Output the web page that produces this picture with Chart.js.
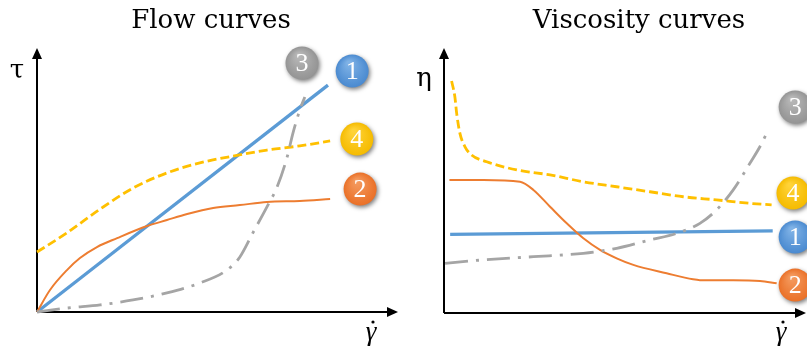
<!DOCTYPE html>
<html>
<head>
<meta charset="utf-8">
<script src="https://cdn.jsdelivr.net/npm/chart.js@4"></script>
<style>
  body { margin: 0; background: #fff; width: 807px; height: 351px; overflow: hidden; position: relative; }
  canvas { position: absolute; top: 0; }
  #flow { left: 0; }
  #visc { left: 403px; }
</style>
</head>
<body>
<canvas id="flow" width="403" height="351"></canvas>
<canvas id="visc" width="404" height="351"></canvas>
<script>
// Flow curves: shear stress vs shear rate (arbitrary units 0-100)
const flowNewtonX = [0, 80.6];
const flowNewtonY = [0, 86.6];
const flowThinningX = [0, 3.6, 8.3, 11.9, 16.6, 22.2, 30.5, 36, 41.6, 48.8, 56.2, 63.7, 72.8, 81.2];
const flowThinningY = [0, 8.4, 16, 20.6, 24.8, 28.2, 32.8, 35.1, 37.4, 39.7, 40.8, 42, 42.4, 43.1];
const flowThickeningX = [0, 8.3, 17.5, 26.6, 36, 45.2, 52.6, 56.2, 59.8, 63.7, 66.5, 69.3, 70.9, 72.8, 74.2];
const flowThickeningY = [0, 1.5, 2.7, 4.6, 7.3, 11.1, 16, 21, 30.2, 40.1, 47.7, 59.2, 68.3, 77.1, 82.1];
const flowYieldX = [0, 8.3, 17.5, 26.6, 36, 45.1, 54.3, 63.7, 72.8, 81.2];
const flowYieldY = [22.9, 30.2, 39.3, 47.3, 53.1, 56.9, 59.5, 61.8, 63.4, 65.3];

// Viscosity curves: viscosity vs shear rate
const viscNewtonX = [1.7, 90.8];
const viscNewtonY = [29.9, 31.2];
const viscThinningX = [1.5, 10.9, 21, 24.7, 29.3, 33.9, 38.5, 43.1, 47.7, 52.3, 61.5, 68.8, 70.7, 79.9, 87.3, 91.9];
const viscThinningY = [50.6, 50.6, 49.9, 46.8, 40.4, 34.1, 28.4, 24, 20.8, 18.3, 15.1, 12.8, 12.5, 12.5, 12.2, 11.3];
const viscThickeningX = [0.3, 10.9, 24.7, 38.5, 47.7, 56.9, 64.3, 70.7, 75.3, 79.9, 84.5, 87.3, 89.6];
const viscThickeningY = [18.9, 20.2, 21.4, 22.7, 24.6, 27.8, 30.3, 34.1, 39.2, 46.8, 56.9, 63.3, 69.6];
const viscYieldX = [2.1, 3, 3.5, 4.4, 5.8, 7.6, 11.8, 20.1, 29.3, 38.5, 47.7, 56.9, 66.1, 75.3, 84.5, 90.5];
const viscYieldY = [88.2, 82.2, 75.9, 68.3, 63.2, 60.1, 57.5, 54.4, 52.5, 49.9, 48, 46.1, 44.2, 43, 41.7, 41.1];

// numbered markers: labels and where they sit (data units)
const badgeLabels = ['1', '2', '3', '4'];
const flowBadgeX = [87.3, 89.5, 73.4, 88.6];
const flowBadgeY = [92.0, 46.9, 95.0, 66.0];
const viscBadgeX = [97.0, 97.0, 97.0, 96.4];
const viscBadgeY = [28.9, 10.6, 78.3, 45.6];

const BLUE = '#5b9bd5';
const ORANGE = '#ed7d31';
const GRAY = '#a5a5a5';
const YELLOW = '#ffc000';
const badgeColors = ['#4a8ad0', '#ea7027', '#949494', '#f5bb00'];
const badgeLight = ['#7fb2e6', '#f49a5e', '#b8b8b8', '#ffd338'];

function pts(xs, ys) {
    return xs.map((x, i) => ({ x: x, y: ys[i] }));
}

function curve(xs, ys, color, width, dash) {
    return {
        data: pts(xs, ys),
        borderColor: color,
        borderWidth: width,
        borderDash: dash || [],
        pointRadius: 0,
        fill: false,
        cubicInterpolationMode: 'monotone',
        borderCapStyle: 'butt',
        clip: false
    };
}

function drawBadge(ctx, x, y, i) {
    const r = 16.5;
    ctx.save();
    ctx.shadowColor = 'rgba(0,0,0,0.5)';
    ctx.shadowBlur = 4;
    ctx.shadowOffsetX = 1.5;
    ctx.shadowOffsetY = 2;
    const g = ctx.createRadialGradient(x - r * 0.2, y - r * 0.5, r * 0.1, x, y, r);
    g.addColorStop(0, badgeLight[i]);
    g.addColorStop(1, badgeColors[i]);
    ctx.fillStyle = g;
    ctx.beginPath();
    ctx.arc(x, y, r, 0, Math.PI * 2);
    ctx.fill();
    ctx.restore();
    ctx.save();
    ctx.fillStyle = '#fff';
    ctx.font = '26px "Liberation Serif", serif';
    ctx.textAlign = 'center';
    ctx.textBaseline = 'middle';
    ctx.fillText(badgeLabels[i], x, y + 1);
    ctx.restore();
}

// axes with arrowheads, titles, axis symbols and numbered markers
function decorations(opts) {
    return {
        id: 'decor',
        beforeDatasetsDraw(chart) {
            const { ctx, chartArea: a } = chart;
            ctx.save();
            ctx.strokeStyle = '#000';
            ctx.fillStyle = '#000';
            ctx.lineWidth = 2;
            ctx.beginPath();
            ctx.moveTo(a.left, a.bottom);
            ctx.lineTo(a.left, a.top + 8);
            ctx.moveTo(a.left, a.bottom);
            ctx.lineTo(a.right - 8, a.bottom);
            ctx.stroke();
            ctx.beginPath();
            ctx.moveTo(a.left, a.top - 2);
            ctx.lineTo(a.left - 5, a.top + 9);
            ctx.lineTo(a.left + 5, a.top + 9);
            ctx.closePath();
            ctx.fill();
            ctx.beginPath();
            ctx.moveTo(a.right, a.bottom);
            ctx.lineTo(a.right - 11, a.bottom - 5);
            ctx.lineTo(a.right - 11, a.bottom + 5);
            ctx.closePath();
            ctx.fill();

            ctx.textAlign = 'center';
            ctx.textBaseline = 'alphabetic';
            ctx.font = '26px "DejaVu Serif", serif';
            ctx.fillText(opts.title, opts.titleX, 28);
            ctx.font = opts.symbolFont;
            ctx.fillText(opts.symbol, opts.symbolX, opts.symbolY);
            // shear rate: gamma with a dot above
            ctx.font = 'italic 27px "Liberation Serif", serif';
            ctx.fillText('γ', opts.rateX, 340);
            ctx.beginPath();
            ctx.arc(opts.rateX + 2, 322, 1.6, 0, Math.PI * 2);
            ctx.fill();
            ctx.restore();
        },
        afterDatasetsDraw(chart) {
            const xs = chart.scales.x, ys = chart.scales.y;
            opts.badgeX.forEach((bx, i) => {
                drawBadge(chart.ctx, xs.getPixelForValue(bx), ys.getPixelForValue(opts.badgeY[i]), i);
            });
        }
    };
}

function makeChart(id, datasets, padding, opts) {
    return new Chart(document.getElementById(id), {
        type: 'line',
        data: { datasets: datasets },
        options: {
            responsive: false,
            animation: false,
            layout: { padding: padding },
            plugins: { legend: { display: false }, tooltip: { enabled: false } },
            scales: {
                x: { type: 'linear', min: 0, max: 100, display: false },
                y: { type: 'linear', min: 0, max: 100, display: false }
            }
        },
        plugins: [decorations(opts)]
    });
}

makeChart('flow', [
    curve(flowThickeningX, flowThickeningY, GRAY, 2.8, [23, 8, 3, 8]),
    curve(flowYieldX, flowYieldY, YELLOW, 2.8, [9, 4]),
    curve(flowThinningX, flowThinningY, ORANGE, 2),
    curve(flowNewtonX, flowNewtonY, BLUE, 3.3)
], { left: 37, right: 5, top: 50, bottom: 39 }, {
    title: 'Flow curves', titleX: 211,
    symbol: 'τ', symbolX: 17, symbolY: 78, symbolFont: '26px "DejaVu Serif", serif',
    rateX: 371,
    badgeX: flowBadgeX, badgeY: flowBadgeY
});

makeChart('visc', [
    curve(viscThickeningX, viscThickeningY, GRAY, 2.8, [23, 8, 3, 8]),
    curve(viscYieldX, viscYieldY, YELLOW, 2.8, [9, 4]),
    curve(viscThinningX, viscThinningY, ORANGE, 2),
    curve(viscNewtonX, viscNewtonY, BLUE, 3.3)
], { left: 41, right: 1, top: 50, bottom: 38 }, {
    title: 'Viscosity curves', titleX: 236,
    symbol: 'η', symbolX: 21, symbolY: 86, symbolFont: '26px "DejaVu Serif", serif',
    rateX: 378,
    badgeX: viscBadgeX, badgeY: viscBadgeY
});
</script>
</body>
</html>
